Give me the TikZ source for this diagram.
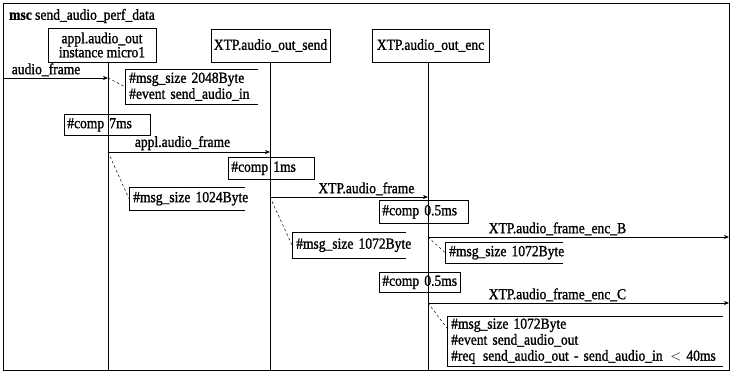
\documentclass[tikz,border=0pt]{standalone}
\usepackage{fontspec}
\setmainfont{Liberation Serif}[FakeStretch=0.88, FakeBold=1.2]
\usetikzlibrary{arrows.meta}
\newcommand\mscfont{\fontsize{15.4}{16}\selectfont}
\tikzset{
  inst/.style={draw, line width=0.6pt, inner sep=2pt, align=center, font=\mscfont},
  comp/.style={draw, line width=0.6pt, anchor=north west, inner xsep=3pt, inner ysep=0pt, align=left, font=\mscfont},
  cmt/.style={anchor=north west, inner xsep=4pt, inner ysep=0pt, align=left, font=\mscfont},
  msg/.style={line width=0.6pt, -{Stealth[length=5pt,width=4pt]}},
  lbl/.style={above, inner sep=1.5pt, font=\mscfont},
  link/.style={line width=0.5pt, dash pattern=on 2.5pt off 2.5pt}
}
\begin{document}
\begin{tikzpicture}[x=1pt, y=-1pt]
  \useasboundingbox (0,0) rectangle (731,373);
  % frame and title
  \draw[line width=0.8pt] (3,3) rectangle (729,370);
  \node[anchor=west, inner sep=0pt, font=\mscfont] (title) at (9,16) {\textbf{msc} send\_audio\_perf\_data};
  % instance heads
  \node[inst, minimum width=108pt, minimum height=34pt] (h1) at (102,45) {appl.audio\_out\\[-2pt]instance micro1};
  \node[inst, minimum width=119pt, minimum height=33pt] (h2) at (270.5,45.5) {XTP.audio\_out\_send};
  \node[inst, minimum width=117pt, minimum height=33pt] (h3) at (430.5,45.5) {XTP.audio\_out\_enc};
  % lifelines
  \coordinate (l1) at (108,370);
  \coordinate (l2) at (270,370);
  \coordinate (l3) at (428,370);
  \draw[line width=0.6pt] (h1.south -| l1) -- (l1);
  \draw[line width=0.6pt] (h2.south -| l2) -- (l2);
  \draw[line width=0.6pt] (h3.south -| l3) -- (l3);
  % message points
  \coordinate (e0) at (3,78);     \coordinate (a1) at (108,78);
  \coordinate (a2) at (108,152);  \coordinate (b2) at (270,152);
  \coordinate (b3) at (270,197);  \coordinate (c3) at (428,197);
  \coordinate (c4) at (428,237);  \coordinate (eB) at (729,237);
  \coordinate (c5) at (428,303);  \coordinate (eC) at (729,303);
  % actions
  \node[comp, text width=80pt, minimum height=21pt] (p1) at (64,114) {\mbox{\#comp 7ms}};
  \node[comp, text width=80pt, minimum height=22pt] (p2) at (228,157) {\mbox{\#comp 1ms}};
  \node[comp, text width=83pt, minimum height=23pt] (p3) at (379,200) {\mbox{\#comp 0.5ms}};
  \node[comp, text width=75pt, minimum height=20pt] (p4) at (379,272) {\mbox{\#comp 0.5ms}};
  % comments
  \node[cmt, text width=125pt, minimum height=35pt] (k1) at (125,69) {\mbox{\#msg\_size 2048Byte}\\\mbox{\#event send\_audio\_in}};
  \node[cmt, text width=108pt, minimum height=23pt] (k2) at (129,187) {\mbox{\#msg\_size 1024Byte}};
  \node[cmt, text width=106pt, minimum height=26pt] (k3) at (292,232) {\mbox{\#msg\_size 1072Byte}};
  \node[cmt, text width=110pt, minimum height=21pt] (k4) at (445,242) {\mbox{\#msg\_size 1072Byte}};
  \node[cmt, text width=268pt, minimum height=50pt] (k5) at (447,316) {\mbox{\#msg\_size 1072Byte}\\\mbox{\#event send\_audio\_out}\\\mbox{\#req\enspace send\_audio\_out - send\_audio\_in\enspace$<$ 40ms}};
  \foreach \k in {k1,k2,k3,k4,k5}
    \draw[line width=0.6pt] (\k.north east) -- (\k.north west) -- (\k.south west) -- (\k.south east);
  % messages
  \draw[msg] (e0) -- node[lbl, pos=0.41] (t1) {audio\_frame} (a1);
  \draw[msg] (a2) -- node[lbl, pos=0.46] (t2) {appl.audio\_frame} (b2);
  \draw[msg] (b3) -- node[lbl, pos=0.61] (t3) {XTP.audio\_frame} (c3);
  \draw[msg] (c4) -- node[lbl, pos=0.43] (t4) {XTP.audio\_frame\_enc\_B} (eB);
  \draw[msg] (c5) -- node[lbl, pos=0.43] (t5) {XTP.audio\_frame\_enc\_C} (eC);
  % comment links
  \draw[link] (a1) -- (k1.west);
  \draw[link] (a2) -- (k2.west);
  \draw[link] (b3) -- (k3.west);
  \draw[link] (c4) -- (k4.west);
  \draw[link] (c5) -- ([yshift=13pt]k5.west);
\end{tikzpicture}
\end{document}
